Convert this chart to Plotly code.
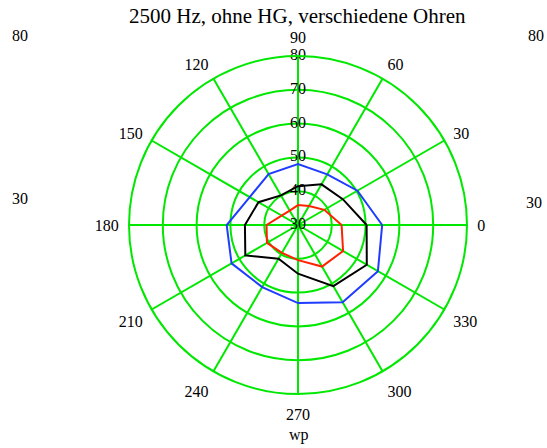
import plotly.graph_objects as go

angles = [0, 30, 60, 90, 120, 150, 180, 210, 240, 270, 300, 330]
blue_vals = [54.9, 50.3, 47.3, 48.0, 47.4, 46.5, 51.1, 52.7, 51.2, 53.1, 56.4, 57.3]
black_vals = [50.3, 45.3, 43.9, 41.5, 40.1, 43.5, 45.7, 48.0, 41.5, 44.4, 50.9, 53.5]
red_vals = [42.9, 39.0, 36.5, 35.9, 34.9, 35.6, 39.3, 40.6, 39.5, 40.4, 44.2, 45.4]
radial_ticks = [30, 40, 50, 60, 70, 80]
angle_ticks = [0, 30, 60, 90, 120, 150, 180, 210, 240, 270, 300, 330]

GREEN = "#00e800"
FONT = "Liberation Serif"

def closed(a):
    return list(a) + [a[0]]

fig = go.Figure()
for vals, col in [(blue_vals, "#1f3cff"), (black_vals, "#000000"), (red_vals, "#ff2200")]:
    fig.add_trace(go.Scatterpolar(r=closed(vals), theta=closed(angles), mode="lines",
                                  line=dict(color=col, width=2), showlegend=False,
                                  hoverinfo="skip"))

fig.add_trace(go.Scatterpolar(r=radial_ticks, theta=[90] * len(radial_ticks), mode="text",
                              text=[str(v) for v in radial_ticks],
                              textfont=dict(family=FONT, size=16, color="black"),
                              showlegend=False, hoverinfo="skip"))

cx, cy, R = 298, 225, 169
W, H = 547, 448
fig.update_layout(
    width=W, height=H,
    margin=dict(l=0, r=0, t=0, b=0),
    paper_bgcolor="white", plot_bgcolor="white",
    showlegend=False,
    polar=dict(
        domain=dict(x=[(cx - R) / W, (cx + R) / W], y=[(H - cy - R) / H, (H - cy + R) / H]),
        bgcolor="white",
        radialaxis=dict(range=[30, 80], tickvals=radial_ticks, showticklabels=False,
                        showgrid=True, gridcolor=GREEN, gridwidth=2, showline=False,
                        ticks="", angle=90),
        angularaxis=dict(direction="counterclockwise", rotation=0,
                         tickvals=angle_ticks, ticktext=[str(a) for a in angle_ticks],
                         showgrid=True, gridcolor=GREEN, gridwidth=2,
                         showline=True, linecolor=GREEN, linewidth=2,
                         ticks="outside", ticklen=6, tickcolor="rgba(0,0,0,0)",
                         tickfont=dict(family=FONT, size=16, color="black")),
    ),
)

def ann(text, px, py, size=16):
    return dict(text=text, x=px / W, y=1 - py / H, xref="paper", yref="paper",
                xanchor="center", yanchor="middle",
                showarrow=False, font=dict(family=FONT, size=size, color="black"))

fig.update_layout(annotations=[
    ann("2500 Hz, ohne HG, verschiedene Ohren", 298, 16, 21),
    ann("80", 20, 35), ann("80", 536, 35),
    ann("30", 20, 198), ann("30", 534, 202),
    ann("wp", 299, 435, 16),
])

fig.write_html("out.html")
